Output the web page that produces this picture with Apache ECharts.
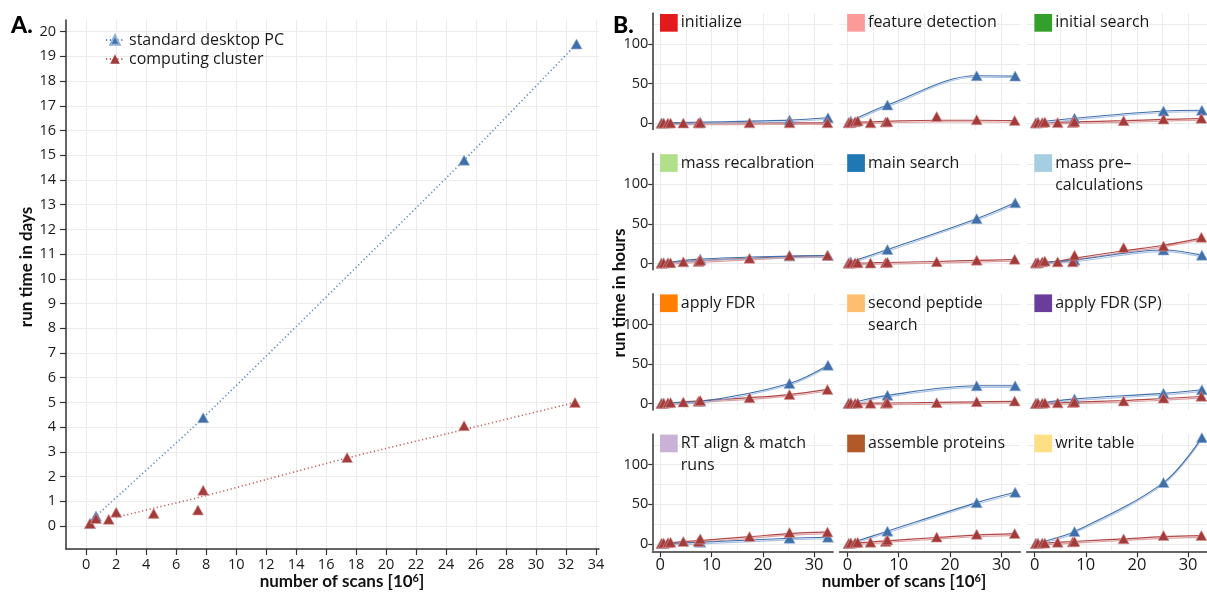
<!DOCTYPE html>
<html>
<head>
<meta charset="utf-8">
<script src="https://cdn.jsdelivr.net/npm/echarts@6/dist/echarts.min.js"></script>
<style>
  html, body { margin: 0; padding: 0; background: #fff; }
  #chart { width: 1207px; height: 592px; }
</style>
</head>
<body>
<div id="chart"></div>
<script>
// Scan counts (millions) of the benchmark data sets
const clusterScans = [0.25, 0.65, 1.5, 2.0, 4.5, 7.45, 7.8, 17.4, 25.2, 32.6];
const pcScans = [0.25, 0.65, 7.8, 25.2, 32.7];

// A. total run time in days
const pcDays = [0.1, 0.4, 4.38, 14.8, 19.5];
const clusterDays = [0.1, 0.3, 0.27, 0.56, 0.51, 0.65, 1.45, 2.77, 4.06, 5.0];
// dotted trend through the cluster totals
const clusterTrendScans = [2.0, 4.5, 7.8, 12, 17.4, 25.2, 32.6];
const clusterTrendDays = [0.35, 0.72, 1.2, 1.88, 2.75, 3.9, 5.0];

// B. run time of each processing step, in hours
const stepNames = [
  'initialize', 'feature detection', 'initial search',
  'mass recalbration', 'main search', 'mass pre\u2013\ncalculations',
  'apply FDR', 'second peptide\nsearch', 'apply FDR (SP)',
  'RT align & match\nruns', 'assemble proteins', 'write table'
];
const stepColors = [
  '#e31a1c', '#fb9a99', '#33a02c',
  '#b2df8a', '#1f78b4', '#a6cee3',
  '#ff7f00', '#fdbf6f', '#6a3d9a',
  '#cab2d6', '#b15928', '#ffdf85'
];
// computing cluster, one row per step, values at clusterScans
const clusterHours = [
  [0.1, 0.2, 0.2, 0.3, 0.3, 0.4, 0.5, 0.5, 0.6, 0.6],
  [0.5, 1, 2, 3, 0.5, 1.5, 2, 8.5, 4.5, 3.5],
  [0.3, 0.5, 1, 1.5, 0.8, 1, 2, 3.3, 5.3, 6.2],
  [0.3, 0.5, 1, 1, 2, 2.5, 4, 6.5, 10, 10.2],
  [0.3, 0.5, 0.8, 1, 0.5, 1, 1.5, 2.3, 4.2, 5.3],
  [0.5, 1, 2, 3, 2, 2, 10.5, 20, 22, 33],
  [0.3, 0.5, 1, 1.5, 2, 3, 4, 7.5, 11.5, 18],
  [0.3, 0.5, 0.5, 0.8, 0.5, 0.5, 1, 1.3, 2.5, 3.3],
  [0.2, 0.4, 0.6, 1, 1, 1.5, 2, 3.5, 7, 9.3],
  [0.5, 1, 1.5, 2, 3, 3, 6.3, 9.2, 14.3, 15],
  [0.5, 1, 1.5, 2, 2, 3, 5, 8.5, 12, 13],
  [0.3, 0.5, 1, 1, 2, 2.5, 3, 6.3, 10.5, 10.5]
];
// standard desktop PC, one row per step, values at pcScans
const pcHours = [
  [0.2, 0.4, 1.5, 4, 7],
  [1, 3, 23, 60, 59.5],
  [0.5, 1.5, 6.3, 15.5, 16.5],
  [0.5, 1, 5.5, 9.3, 10],
  [1, 2, 17.5, 56.5, 76.5],
  [0.5, 1, 4.2, 17, 10.5],
  [0.5, 1, 3, 25.5, 48.5],
  [0.5, 1, 10.5, 22.5, 22.5],
  [0.3, 0.5, 6, 13, 17.5],
  [0.3, 0.5, 2, 7.1, 8.4],
  [0.5, 1, 16, 52, 65],
  [0.5, 1, 15.5, 77.3, 134]
];
// smoothed cluster curve of each step
const clusterFitScans = [0.25, 4.5, 7.6, 17.4, 25.2, 32.6];
const clusterFitHours = [
  [0.1, 0.2, 0.3, 0.4, 0.5, 0.5],
  [1, 1.8, 2.5, 3.8, 3.8, 3.2],
  [0.5, 1.2, 1.8, 3.2, 4.8, 6],
  [0.5, 2.2, 3.5, 6.5, 9, 10],
  [0.3, 0.8, 1.2, 2.5, 3.8, 5],
  [0.5, 3, 6.5, 16, 23, 32],
  [0.5, 2, 3.5, 7.5, 11.5, 18],
  [0.3, 0.6, 0.8, 1.5, 2.3, 3],
  [0.3, 1, 2, 4, 6.5, 9],
  [0.5, 2.8, 4.2, 9, 13, 15],
  [0.5, 2.3, 3.8, 8, 11, 12.8],
  [0.3, 1.8, 3, 6.3, 9, 10.3]
];

// tick and grid line positions
const xTicksA = [0, 2, 4, 6, 8, 10, 12, 14, 16, 18, 20, 22, 24, 26, 28, 30, 32, 34];
const yTicksA = [0, 1, 2, 3, 4, 5, 6, 7, 8, 9, 10, 11, 12, 13, 14, 15, 16, 17, 18, 19, 20];
const xTicksB = [0, 10, 20, 30];
const yTicksB = [0, 50, 100];
const xGridB = [0, 5, 10, 15, 20, 25, 30];
const yGridB = [0, 25, 50, 75, 100, 125];

const FONT = '"Open Sans", "Noto Sans", sans-serif';
const TITLE_FONT = 'Lato, "Open Sans", sans-serif';
const BLUE = '#3f6ea9';
const RED = '#a33b3b';
const AXIS = '#333';
const GRID = '#ebebeb';
const INK = '#1a1a1a';
const PC = 'standard desktop PC';
const CLUSTER = 'computing cluster';

const zip = (xs, ys) => xs.map((x, i) => [x, ys[i]]);

const grids = [], xAxes = [], yAxes = [], series = [], graphics = [];

// ---------- A: total run time ----------
grids.push({ left: 66, top: 20, width: 533, height: 529 });
xAxes.push({
  type: 'value', gridIndex: 0, min: -1.35, max: 34.2,
  axisLine: { onZero: false, lineStyle: { color: AXIS, width: 1.5 } },
  axisTick: { customValues: xTicksA, length: 6, lineStyle: { color: AXIS, width: 1.2 } },
  axisLabel: { customValues: xTicksA, fontSize: 14.5, color: INK, fontFamily: FONT, margin: 8 },
  splitLine: { show: true, lineStyle: { color: GRID, width: 1 } }
});
yAxes.push({
  type: 'value', gridIndex: 0, min: -0.93, max: 20.47,
  axisLine: { onZero: false, lineStyle: { color: AXIS, width: 1.5 } },
  axisTick: { customValues: yTicksA, length: 6, lineStyle: { color: AXIS, width: 1.2 } },
  axisLabel: { customValues: yTicksA, fontSize: 14.5, color: INK, fontFamily: FONT, margin: 10 },
  splitLine: { show: true, lineStyle: { color: GRID, width: 1 } }
});
series.push({
  name: PC, type: 'line', xAxisIndex: 0, yAxisIndex: 0,
  data: zip(pcScans, pcDays), smooth: 0.2,
  symbol: 'triangle', symbolSize: [11, 10], showSymbol: true,
  lineStyle: { color: '#5a86c4', width: 1.6, type: [1.2, 2.6] },
  itemStyle: { color: BLUE, borderColor: '#8fb0d8', borderWidth: 0.6 },
  z: 3
});
series.push({
  name: CLUSTER, type: 'line', xAxisIndex: 0, yAxisIndex: 0,
  data: zip(clusterTrendScans, clusterTrendDays), smooth: 0.3,
  symbol: 'triangle', symbolSize: [11, 10], showSymbol: false,
  lineStyle: { color: '#c46262', width: 1.6, type: [1.2, 2.6] },
  itemStyle: { color: RED },
  z: 3
});
series.push({
  name: CLUSTER, type: 'scatter', xAxisIndex: 0, yAxisIndex: 0,
  data: zip(clusterScans, clusterDays),
  symbol: 'triangle', symbolSize: [11, 10],
  itemStyle: { color: RED, borderColor: '#d89a9a', borderWidth: 0.6, opacity: 1 },
  z: 4
});

// ---------- B: run time per step ----------
const colLeft = [652.3, 839.5, 1026.7];
const rowTop = [13.3, 153.5, 293.7, 433.9];
const panelW = 180.8, panelH = 116.3;

stepNames.forEach((name, i) => {
  const r = Math.floor(i / 3), c = i % 3;
  const g = grids.length;
  const left = colLeft[c], top = rowTop[r];
  grids.push({ left: left, top: top, width: panelW, height: panelH });

  // grid-line axes carrying the data
  const xi = xAxes.length;
  xAxes.push({
    type: 'value', gridIndex: g, min: -1.55, max: 33.7,
    axisLine: { show: false }, axisTick: { show: false, customValues: xGridB },
    axisLabel: { show: false },
    splitLine: { show: true, lineStyle: { color: GRID, width: 1 } }
  });
  const yi = yAxes.length;
  yAxes.push({
    type: 'value', gridIndex: g, min: -8, max: 138.7, position: 'left',
    axisLine: { show: false }, axisTick: { show: false, customValues: yGridB },
    axisLabel: { show: false },
    splitLine: { show: true, lineStyle: { color: GRID, width: 1 } }
  });
  // labelled axes on the outer panels
  if (r === 3) {
    xAxes.push({
      type: 'value', gridIndex: g, min: -1.55, max: 33.7, position: 'bottom', offset: 2,
      axisLine: { onZero: false, lineStyle: { color: AXIS, width: 1.5 } },
      axisTick: { customValues: xTicksB, length: 5, lineStyle: { color: AXIS, width: 1.2 } },
      axisLabel: { customValues: xTicksB, fontSize: 16.5, color: INK, fontFamily: FONT, margin: 5 },
      splitLine: { show: false }
    });
  }
  if (c === 0) {
    yAxes.push({
      type: 'value', gridIndex: g, min: -8, max: 138.7, position: 'left',
      axisLine: { onZero: false, lineStyle: { color: AXIS, width: 1.5 } },
      axisTick: { customValues: yTicksB, length: 4, lineStyle: { color: AXIS, width: 1.2 } },
      axisLabel: { customValues: yTicksB, fontSize: 14.5, color: INK, fontFamily: FONT, margin: 4 },
      splitLine: { show: false }
    });
  }

  series.push({
    name: CLUSTER, type: 'line', xAxisIndex: xi, yAxisIndex: yi,
    data: zip(clusterFitScans, clusterFitHours[i]), smooth: 0.35,
    showSymbol: false, symbol: 'none', silent: true,
    lineStyle: { color: '#b04646', width: 1.2, shadowColor: 'rgba(214,140,140,0.8)', shadowOffsetY: 1.6, shadowBlur: 0 },
    z: 2
  });
  series.push({
    name: PC, type: 'line', xAxisIndex: xi, yAxisIndex: yi,
    data: zip(pcScans, pcHours[i]), smooth: 0.35,
    showSymbol: false, symbol: 'none', silent: true,
    lineStyle: { color: '#3f6fae', width: 1.1, shadowColor: 'rgba(150,180,220,0.8)', shadowOffsetY: 1.6, shadowBlur: 0 },
    z: 2
  });
  series.push({
    name: PC, type: 'scatter', xAxisIndex: xi, yAxisIndex: yi,
    data: zip(pcScans, pcHours[i]),
    symbol: 'triangle', symbolSize: [11, 10],
    itemStyle: { color: BLUE, borderColor: '#8fb0d8', borderWidth: 0.6, opacity: 1 },
    z: 3
  });
  series.push({
    name: CLUSTER, type: 'scatter', xAxisIndex: xi, yAxisIndex: yi,
    data: zip(clusterScans, clusterHours[i]),
    symbol: 'triangle', symbolSize: [11, 10],
    itemStyle: { color: RED, borderColor: '#d89a9a', borderWidth: 0.6, opacity: 1 },
    z: 4
  });

  // step heading: coloured key square and name
  graphics.push({
    type: 'rect', z: 10,
    shape: { x: left + 7.7, y: top + 0.7, width: 17.7, height: 17.7 },
    style: { fill: stepColors[i] }
  });
  graphics.push({
    type: 'text', z: 10, x: left + 28.5, y: top - 1.5,
    style: { text: name, font: '16px ' + FONT, fill: INK, textVerticalAlign: 'top', lineHeight: 22 }
  });
});

// panel letters and axis titles
graphics.push({ type: 'text', x: 11, y: 14, style: { text: 'A.', font: '900 23px ' + TITLE_FONT, fill: '#000' } });
graphics.push({ type: 'text', x: 613, y: 14, style: { text: 'B.', font: '900 23px ' + TITLE_FONT, fill: '#000' } });
graphics.push({
  type: 'text', x: 27, y: 267, rotation: Math.PI / 2,
  style: { text: 'run time in days', font: 'bold 17px ' + TITLE_FONT, fill: '#111', textAlign: 'center', textVerticalAlign: 'middle' }
});
graphics.push({
  type: 'text', x: 620, y: 293, rotation: Math.PI / 2,
  style: { text: 'run time in hours', font: 'bold 17px ' + TITLE_FONT, fill: '#111', textAlign: 'center', textVerticalAlign: 'middle' }
});
const scansTitle = (cx) => ({
  type: 'text', x: cx, y: 582,
  style: {
    text: '{b|number of scans [10}{s|6}{b|]}',
    textAlign: 'center', textVerticalAlign: 'middle',
    rich: {
      b: { font: 'bold 17px ' + TITLE_FONT, fill: '#111' },
      s: { font: 'bold 11px ' + TITLE_FONT, fill: '#111', verticalAlign: 'top', padding: [0, 0, 8, 0] }
    }
  }
});
graphics.push(scansTitle(342));
graphics.push(scansTitle(904));

const option = {
  animation: false,
  backgroundColor: '#fff',
  legend: {
    data: [PC, CLUSTER], orient: 'vertical', left: 100, top: 27,
    itemWidth: 18, itemHeight: 12, itemGap: 3,
    textStyle: { fontSize: 16, fontFamily: FONT, color: INK }
  },
  grid: grids,
  xAxis: xAxes,
  yAxis: yAxes,
  series: series,
  graphic: graphics
};

const chart = echarts.init(document.getElementById('chart'));
chart.setOption(option);
</script>
</body>
</html>
